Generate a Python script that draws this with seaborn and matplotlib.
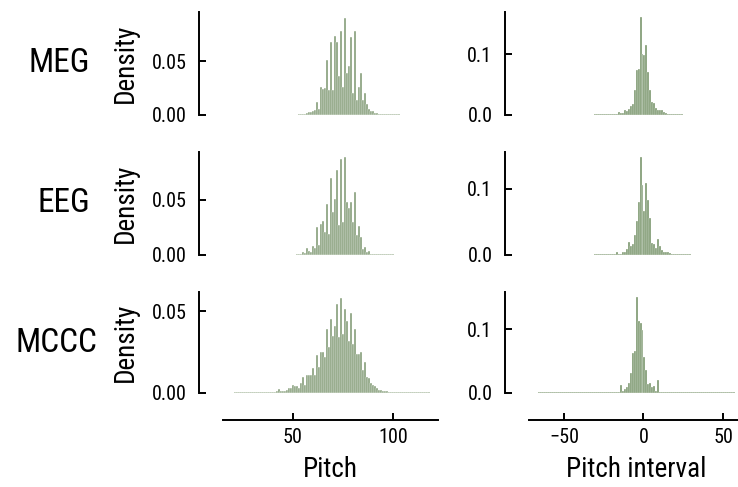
import numpy as np
import matplotlib
matplotlib.use("Agg")
import matplotlib.pyplot as plt
import seaborn as sns

sns.set_theme(style="ticks")
plt.rcParams['font.family'] = ['Roboto Condensed', 'Roboto', 'DejaVu Sans']
plt.rcParams.update({"text.color": "black", "axes.labelcolor": "black",
                     "axes.edgecolor": "black", "xtick.color": "black",
                     "ytick.color": "black"})

# ---------------- data ----------------
row_names = ["MEG", "EEG", "MCCC"]

# Pitch histograms (integer pitch bins), first bin value + densities
meg_pitch_first = 53
meg_pitch_density = [0.0008, 0.0008, 0.001, 0.001, 0.0015, 0.003, 0.003, 0.004, 0.005, 0.012,
                     0.006, 0.026, 0.024, 0.025, 0.051, 0.023, 0.068, 0.023, 0.073, 0.068,
                     0.036, 0.078, 0.026, 0.090, 0.039, 0.045, 0.072, 0.020, 0.078, 0.014,
                     0.026, 0.039, 0.014, 0.020, 0.010, 0.006, 0.004, 0.004, 0.002, 0.0015,
                     0.001, 0.0009, 0.0008, 0.0008, 0.0008, 0.0008, 0.0008, 0.0008, 0.0008, 0.0008,
                     0.0008]
eeg_pitch_first = 52
eeg_pitch_density = [0.0008, 0.001, 0.001, 0.003, 0.002, 0.006, 0.004, 0.003, 0.008, 0.006,
                     0.025, 0.009, 0.028, 0.031, 0.021, 0.046, 0.019, 0.070, 0.039, 0.051,
                     0.077, 0.027, 0.087, 0.030, 0.089, 0.048, 0.043, 0.048, 0.030, 0.057,
                     0.018, 0.026, 0.016, 0.005, 0.007, 0.003, 0.004, 0.001, 0.001, 0.0008,
                     0.0008, 0.0008, 0.0008, 0.0008, 0.0008, 0.0008, 0.0008, 0.0008, 0.0008]
mccc_pitch_first = 21
mccc_pitch_density = [0.0005, 0.0005, 0.0005, 0.0005, 0.0005, 0.0005, 0.0005, 0.0005, 0.0005, 0.0005,
                      0.0005, 0.0005, 0.0005, 0.0005, 0.0006, 0.0008, 0.0007, 0.0008, 0.0009, 0.0008,
                      0.0009, 0.001, 0.0025, 0.001, 0.0015, 0.0015, 0.002, 0.003, 0.003, 0.005,
                      0.004, 0.004, 0.003, 0.006, 0.0095, 0.005, 0.011, 0.011, 0.011, 0.015,
                      0.011, 0.023, 0.016, 0.025, 0.025, 0.022, 0.039, 0.028, 0.045, 0.035,
                      0.041, 0.054, 0.034, 0.058, 0.036, 0.051, 0.044, 0.032, 0.049, 0.030,
                      0.039, 0.024, 0.024, 0.025, 0.014, 0.019, 0.010, 0.009, 0.006, 0.005,
                      0.004, 0.003, 0.002, 0.002, 0.0014, 0.0012, 0.001, 0.0008, 0.0006, 0.0005,
                      0.0005, 0.0005, 0.0005, 0.0005, 0.0005, 0.0005, 0.0005, 0.0005, 0.0005, 0.0005,
                      0.0005, 0.0005, 0.0005, 0.0005, 0.0005, 0.0005, 0.0005, 0.0005]

# Pitch-interval histograms (bin width 1.25), first bin centre + densities
interval_binwidth = 1.25
meg_interval_first = -30.625
meg_interval_density = [0.0013, 0.0013, 0.0013, 0.0013, 0.0013, 0.0013, 0.0013, 0.0013, 0.0013, 0.0013,
                        0.002, 0.002, 0.005, 0.003, 0.004, 0.008, 0.006, 0.010, 0.014, 0.018,
                        0.041, 0.074, 0.076, 0.160, 0.100, 0.098, 0.115, 0.071, 0.041, 0.022,
                        0.019, 0.011, 0.008, 0.009, 0.008, 0.005, 0.004, 0.002, 0.0015, 0.0013,
                        0.0013, 0.0013, 0.0013, 0.0013, 0.0013]
eeg_interval_first = -30.625
eeg_interval_density = [0.0012, 0.0012, 0.0012, 0.0012, 0.0012, 0.0012, 0.0012, 0.0012, 0.0012, 0.0012,
                        0.002, 0.005, 0.002, 0.002, 0.004, 0.004, 0.009, 0.019, 0.013, 0.017,
                        0.030, 0.051, 0.081, 0.148, 0.106, 0.066, 0.109, 0.084, 0.056, 0.018,
                        0.016, 0.010, 0.024, 0.013, 0.008, 0.004, 0.004, 0.004, 0.003, 0.0012,
                        0.0012, 0.0012, 0.0012, 0.0012, 0.0012, 0.0012, 0.0012, 0.0012, 0.0012]
mccc_interval_first = -65.625
mccc_interval_density = [0.0012, 0.0012, 0.0012, 0.0012, 0.0012, 0.0012, 0.0012, 0.0012, 0.0012, 0.0012,
                         0.0012, 0.0012, 0.0012, 0.0012, 0.0012, 0.0012, 0.0012, 0.0012, 0.0012, 0.0012,
                         0.0012, 0.0012, 0.0012, 0.0012, 0.0012, 0.0012, 0.0012, 0.0012, 0.0012, 0.0012,
                         0.0012, 0.0012, 0.0013, 0.0012, 0.0013, 0.0013, 0.0014, 0.0015, 0.0013, 0.0016,
                         0.002, 0.0125, 0.003, 0.006, 0.009, 0.016, 0.031, 0.062, 0.065, 0.150,
                         0.113, 0.109, 0.098, 0.057, 0.036, 0.0135, 0.015, 0.010, 0.011, 0.003,
                         0.021, 0.002, 0.0016, 0.0014, 0.0013, 0.0012, 0.0012, 0.0012, 0.0012, 0.0012,
                         0.0012, 0.0012, 0.0012, 0.0012, 0.0012, 0.0012, 0.0012, 0.0012, 0.0012, 0.0012,
                         0.0012, 0.0012, 0.0012, 0.0012, 0.0012, 0.0012, 0.0012, 0.0012, 0.0012, 0.0012,
                         0.0012, 0.0012, 0.0012, 0.0012, 0.0012, 0.0012, 0.0012, 0.0012, 0.0012]

pitch_data = [(meg_pitch_first, meg_pitch_density),
              (eeg_pitch_first, eeg_pitch_density),
              (mccc_pitch_first, mccc_pitch_density)]
interval_data = [(meg_interval_first, meg_interval_density),
                 (eeg_interval_first, eeg_interval_density),
                 (mccc_interval_first, mccc_interval_density)]

pitch_ticks = [50, 100]
interval_ticks = [-50, 0, 50]
pitch_yticks = [0.0, 0.05]
interval_yticks = [0.0, 0.1]

# ---------------- layout (pixels) ----------------
W, H = 738, 487
col_x = [223, 529]
col_w = 215
row_tb = [(12, 115), (152, 255), (292, 393)]
row_label_right = [90, 90, 97]
ylims_left = [0.0954, 0.0936, 0.0616]
ylims_right = [0.169, 0.156, 0.158]
xlim_left = (15.0, 122.5)
xlim_right = (-72.0, 63.2)

bar_color = "#5c7e4c"
bar_alpha = 0.78
fs_tick = 14.5
fs_label = 19.5
fs_row = 24
px = 72.0 / 100.0

fig = plt.figure(figsize=(W / 100, H / 100), dpi=100)


def style_axis(ax, bottom_row):
    for s in ["top", "right"]:
        ax.spines[s].set_visible(False)
    ax.spines["left"].set_position(("outward", 24 * px))
    ax.spines["left"].set_linewidth(1.4)
    ax.spines["bottom"].set_linewidth(1.4)
    ax.tick_params(axis="both", direction="in", length=5, width=1.4,
                   labelsize=fs_tick, color="black", labelcolor="black")
    ax.tick_params(axis="y", pad=9)
    ax.tick_params(axis="x", pad=6)
    if bottom_row:
        ax.spines["bottom"].set_position(("outward", 27 * px))
    else:
        ax.spines["bottom"].set_visible(False)
        ax.tick_params(axis="x", bottom=False, labelbottom=False)


for r in range(3):
    top, bot = row_tb[r]
    for c in range(2):
        ax = fig.add_axes([col_x[c] / W, 1 - bot / H, col_w / W, (bot - top) / H])
        if c == 0:
            first, dens = pitch_data[r]
            xs = first + np.arange(len(dens))
            sns.histplot(x=xs, weights=dens, binwidth=1,
                         binrange=(xs[0] - 0.5, xs[-1] + 0.5), ax=ax,
                         color=bar_color, alpha=bar_alpha, edgecolor="white", linewidth=0.3)
            ax.set_xlim(*xlim_left)
            ax.set_ylim(0, ylims_left[r])
            ax.set_xticks(pitch_ticks)
            ax.set_yticks(pitch_yticks)
            ax.set_yticklabels([f"{v:.2f}" for v in pitch_yticks])
            ax.set_ylabel("Density", fontsize=fs_label, labelpad=9)
            ax.set_xlabel("Pitch" if r == 2 else "", fontsize=fs_label, labelpad=6)
        else:
            first, dens = interval_data[r]
            xs = first + interval_binwidth * np.arange(len(dens))
            hb = interval_binwidth / 2
            sns.histplot(x=xs, weights=dens, binwidth=interval_binwidth,
                         binrange=(xs[0] - hb, xs[-1] + hb), ax=ax,
                         color=bar_color, alpha=bar_alpha, edgecolor="white", linewidth=0.2)
            ax.set_xlim(*xlim_right)
            ax.set_ylim(0, ylims_right[r])
            ax.set_xticks(interval_ticks)
            ax.set_yticks(interval_yticks)
            ax.set_yticklabels([f"{v:.1f}" for v in interval_yticks])
            ax.set_ylabel("")
            ax.set_xlabel("Pitch interval" if r == 2 else "", fontsize=fs_label, labelpad=6)
        style_axis(ax, r == 2)
    fig.text(row_label_right[r] / W, 1 - ((top + bot) / 2) / H, row_names[r],
             fontsize=fs_row, ha="right", va="center")

fig.savefig("out.png", dpi=100)
